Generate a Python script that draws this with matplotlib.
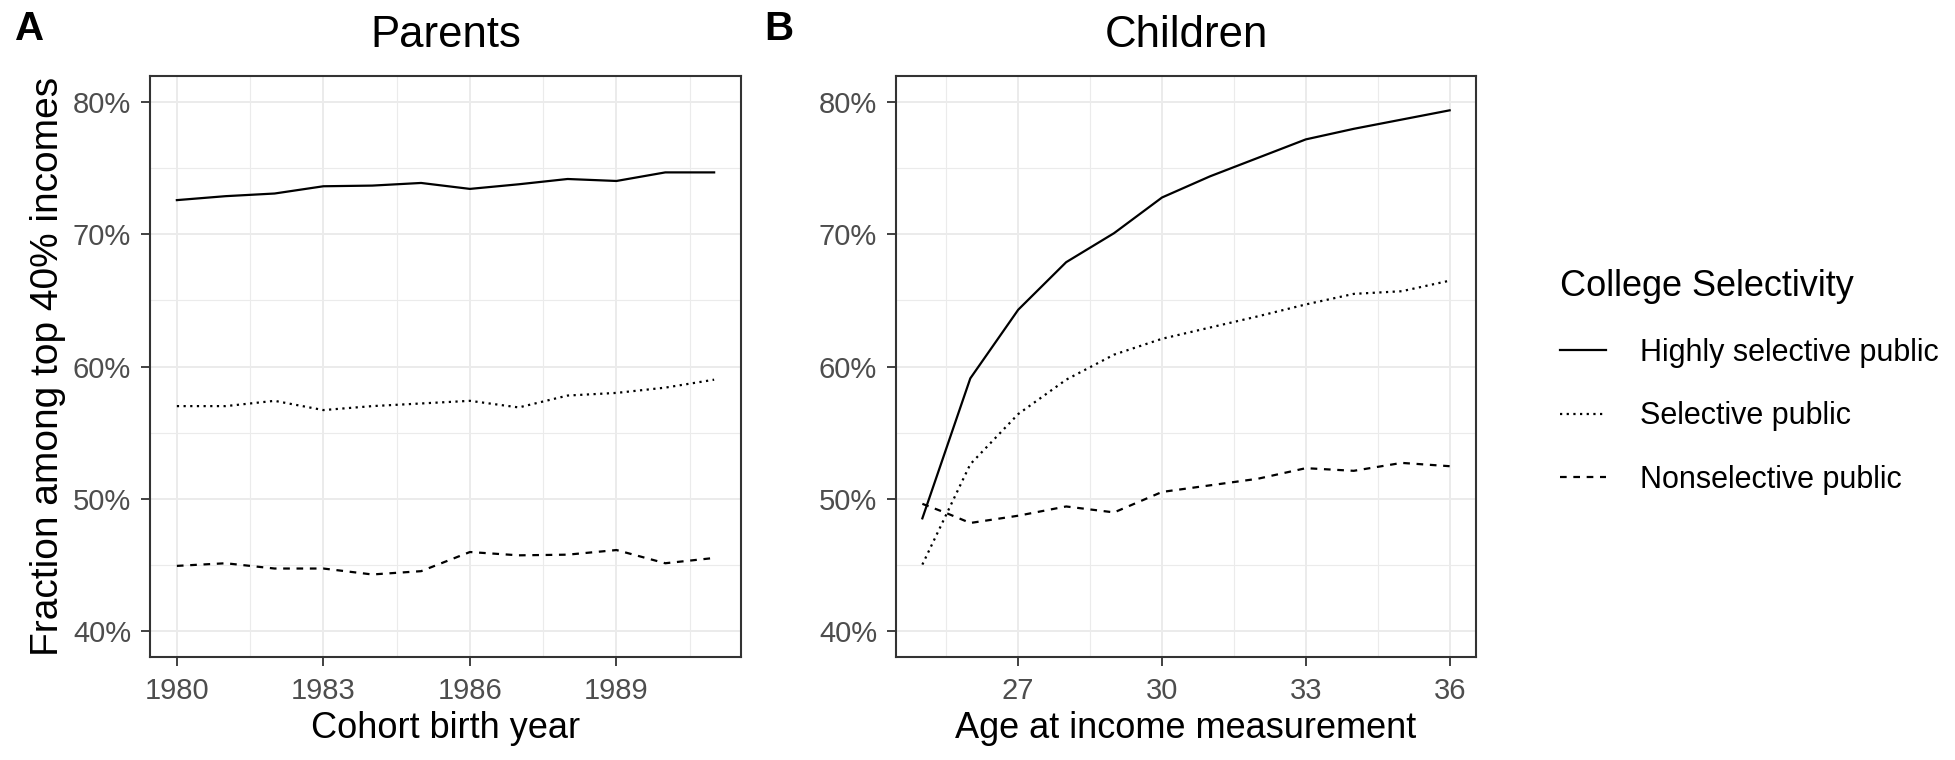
import matplotlib
matplotlib.use("Agg")
import matplotlib.pyplot as plt
from matplotlib.ticker import MultipleLocator, FuncFormatter

plt.rcParams['font.family'] = ['Liberation Sans', 'DejaVu Sans']

# ---------------- data ----------------
series_names = ["Highly selective public", "Selective public", "Nonselective public"]

parent_years = [1980, 1981, 1982, 1983, 1984, 1985, 1986, 1987, 1988, 1989, 1990, 1991]
parent_highly = [72.6, 72.9, 73.1, 73.65, 73.7, 73.9, 73.45, 73.8, 74.2, 74.05, 74.7, 74.7]
parent_selective = [57.0, 57.0, 57.4, 56.7, 57.0, 57.2, 57.4, 56.9, 57.8, 58.0, 58.4, 59.0]
parent_nonsel = [44.9, 45.1, 44.7, 44.7, 44.25, 44.5, 45.95, 45.7, 45.75, 46.1, 45.1, 45.5]

child_ages = [25, 26, 27, 28, 29, 30, 31, 32, 33, 34, 35, 36]
child_highly = [48.5, 59.1, 64.3, 67.9, 70.1, 72.8, 74.4, 75.8, 77.2, 78.0, 78.7, 79.4]
child_selective = [45.0, 52.6, 56.4, 59.0, 60.9, 62.1, 62.95, 63.8, 64.7, 65.5, 65.7, 66.5]
nonsel_ages = [25, 25.5, 26, 27, 28, 29, 30, 31, 32, 33, 34, 35, 36]
child_nonsel = [49.6, 48.9, 48.15, 48.7, 49.4, 48.95, 50.5, 51.0, 51.5, 52.3, 52.1, 52.7, 52.45]

y_ticks = [40, 50, 60, 70, 80]

# ---------------- styling ----------------
styles = ['-', (0, (1.0, 2.0)), (0, (3.0, 3.0))]
lw = 1.6
dark = '#333333'
tickcol = '#4D4D4D'
gridcol = '#EBEBEB'

fig = plt.figure(figsize=(19.56, 7.6), dpi=100)
axA = fig.add_axes([150/1956, 1-657/760, 591/1956, 581/760])
axB = fig.add_axes([896/1956, 1-657/760, 580/1956, 581/760])

def style_axes(ax, xlim, xmajor):
    ax.set_xlim(*xlim)
    ax.set_ylim(38, 82)
    ax.xaxis.set_major_locator(MultipleLocator(xmajor))
    ax.xaxis.set_minor_locator(MultipleLocator(xmajor/2))
    ax.set_yticks(y_ticks)
    ax.yaxis.set_minor_locator(MultipleLocator(5))
    ax.yaxis.set_major_formatter(FuncFormatter(lambda v, p: f"{int(round(v))}%"))
    ax.grid(which='major', color=gridcol, lw=1.4, zorder=0)
    ax.grid(which='minor', color=gridcol, lw=0.8, zorder=0)
    ax.set_axisbelow(True)
    for s in ax.spines.values():
        s.set_color(dark)
        s.set_linewidth(1.5)
    ax.tick_params(which='major', length=6.5, width=1.3, color=dark,
                   labelcolor=tickcol, labelsize=21)
    ax.tick_params(axis='x', which='major', pad=8)
    ax.tick_params(axis='y', which='major', pad=7)
    ax.tick_params(which='minor', length=0)

handles = []
for vals, ls, name in zip([parent_highly, parent_selective, parent_nonsel], styles, series_names):
    h, = axA.plot(parent_years, vals, color='black', lw=lw, linestyle=ls, label=name)
    handles.append(h)
axB.plot(child_ages, child_highly, color='black', lw=lw, linestyle=styles[0])
axB.plot(child_ages, child_selective, color='black', lw=lw, linestyle=styles[1])
axB.plot(nonsel_ages, child_nonsel, color='black', lw=lw, linestyle=styles[2])

style_axes(axA, (1979.45, 1991.55), 3)
style_axes(axB, (24.45, 36.55), 3)

axA.set_title("Parents", fontsize=31.5, pad=21)
axB.set_title("Children", fontsize=31.5, pad=21)
axA.set_xlabel("Cohort birth year", fontsize=26, labelpad=4.5)
axB.set_xlabel("Age at income measurement", fontsize=26, labelpad=4.5)
axA.set_ylabel("Fraction among top 40% incomes", fontsize=28, labelpad=5)

fig.text(15/1956, 1-10/760, "A", fontsize=29, fontweight='bold', va='top', ha='left')
fig.text(764/1956, 1-10/760, "B", fontsize=29, fontweight='bold', va='top', ha='left')

leg = fig.legend(handles=handles, labels=series_names, title="College Selectivity",
                 loc='upper left', bbox_to_anchor=(1548/1956, 1-257/760),
                 frameon=False, fontsize=22, title_fontsize=26,
                 handlelength=1.5, handletextpad=1.1, labelspacing=1.1,
                 borderaxespad=0)
leg._legend_box.align = "left"

fig.savefig("out.png", dpi=100)
